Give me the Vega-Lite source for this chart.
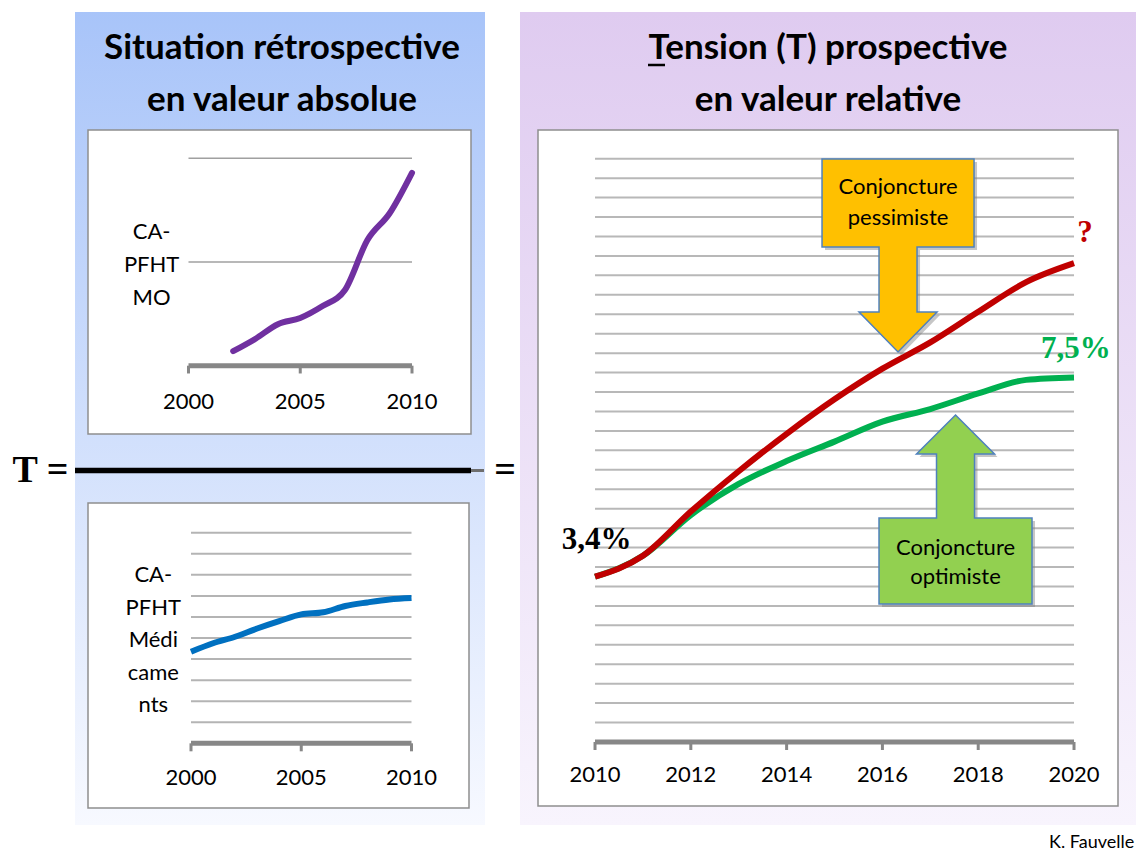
{
"$schema":"https://vega.github.io/schema/vega-lite/v6.json",
"width":1136,"height":852,"padding":0,
"autosize":{"type":"fit","contains":"padding"},
"background":"#ffffff",
"config":{"view":{"stroke":null},"text":{"font":"Lato","color":"#000000"}},
"datasets":{
"mo":[{"year":2002,"value":0.14},{"year":2003,"value":0.26},{"year":2004,"value":0.40},{"year":2005,"value":0.46},{"year":2006,"value":0.575},{"year":2007,"value":0.73},{"year":2008,"value":1.21},{"year":2009,"value":1.47},{"year":2010,"value":1.86}],
"med":[{"year":2000,"value":4.35},{"year":2001,"value":4.75},{"year":2002,"value":5.06},{"year":2003,"value":5.45},{"year":2004,"value":5.80},{"year":2005,"value":6.12},{"year":2006,"value":6.22},{"year":2007,"value":6.52},{"year":2008,"value":6.69},{"year":2009,"value":6.83},{"year":2010,"value":6.90}],
"tension":[
{"scenario":"optimiste","year":2010,"pct":3.40},{"scenario":"optimiste","year":2011,"pct":3.83},{"scenario":"optimiste","year":2012,"pct":4.67},{"scenario":"optimiste","year":2013,"pct":5.31},{"scenario":"optimiste","year":2014,"pct":5.78},{"scenario":"optimiste","year":2015,"pct":6.18},{"scenario":"optimiste","year":2016,"pct":6.59},{"scenario":"optimiste","year":2017,"pct":6.85},{"scenario":"optimiste","year":2018,"pct":7.17},{"scenario":"optimiste","year":2019,"pct":7.45},{"scenario":"optimiste","year":2020,"pct":7.50},
{"scenario":"pessimiste","year":2010,"pct":3.40},{"scenario":"pessimiste","year":2011,"pct":3.83},{"scenario":"pessimiste","year":2012,"pct":4.74},{"scenario":"pessimiste","year":2013,"pct":5.57},{"scenario":"pessimiste","year":2014,"pct":6.34},{"scenario":"pessimiste","year":2015,"pct":7.05},{"scenario":"pessimiste","year":2016,"pct":7.68},{"scenario":"pessimiste","year":2017,"pct":8.22},{"scenario":"pessimiste","year":2018,"pct":8.85},{"scenario":"pessimiste","year":2019,"pct":9.46},{"scenario":"pessimiste","year":2020,"pct":9.85}]
},
"layer":[
{"layer":[
 {"data":{"values":[{}]},"mark":{"type":"rect","fill":{"gradient":"linear","x1":0,"y1":0,"x2":0,"y2":1,"stops":[{"offset":0,"color":"#A8C4F9"},{"offset":1,"color":"#F7F9FF"}]}},
  "encoding":{"x":{"datum":75,"type":"quantitative","scale":{"domain":[0,1136],"nice":false,"zero":false},"axis":null},"x2":{"datum":485},"y":{"datum":12,"type":"quantitative","scale":{"domain":[0,852],"nice":false,"zero":false,"reverse":true},"axis":null},"y2":{"datum":825}}},
 {"data":{"values":[{}]},"mark":{"type":"rect","fill":{"gradient":"linear","x1":0,"y1":0,"x2":0,"y2":1,"stops":[{"offset":0,"color":"#DFCBF0"},{"offset":1,"color":"#F8F4FD"}]}},
  "encoding":{"x":{"datum":520,"type":"quantitative","scale":{"domain":[0,1136],"nice":false,"zero":false},"axis":null},"x2":{"datum":1136},"y":{"datum":12,"type":"quantitative","scale":{"domain":[0,852],"nice":false,"zero":false,"reverse":true},"axis":null},"y2":{"datum":825}}},
 {"data":{"values":[{"box":"MO"}]},"mark":{"type":"rect","fill":"#ffffff","stroke":"#8E8E8E","strokeWidth":1.5},
  "encoding":{"x":{"datum":88,"type":"quantitative","scale":{"domain":[0,1136],"nice":false,"zero":false},"axis":null},"x2":{"datum":471},"y":{"datum":130,"type":"quantitative","scale":{"domain":[0,852],"nice":false,"zero":false,"reverse":true},"axis":null},"y2":{"datum":434}}},
 {"data":{"values":[{"box":"Med"}]},"mark":{"type":"rect","fill":"#ffffff","stroke":"#8E8E8E","strokeWidth":1.5},
  "encoding":{"x":{"datum":88,"type":"quantitative","scale":{"domain":[0,1136],"nice":false,"zero":false},"axis":null},"x2":{"datum":469},"y":{"datum":503,"type":"quantitative","scale":{"domain":[0,852],"nice":false,"zero":false,"reverse":true},"axis":null},"y2":{"datum":808}}},
 {"data":{"values":[{"box":"T"}]},"mark":{"type":"rect","fill":"#ffffff","stroke":"#8E8E8E","strokeWidth":1.5},
  "encoding":{"x":{"datum":538,"type":"quantitative","scale":{"domain":[0,1136],"nice":false,"zero":false},"axis":null},"x2":{"datum":1118},"y":{"datum":130,"type":"quantitative","scale":{"domain":[0,852],"nice":false,"zero":false,"reverse":true},"axis":null},"y2":{"datum":806}}},
 {"data":{"values":[{"t":"Situation rétrospective\nen valeur absolue"}]},"mark":{"type":"text","fontSize":35,"fontWeight":"bold","lineBreak":"\n","lineHeight":52,"baseline":"middle","align":"center"},
  "encoding":{"x":{"datum":282,"type":"quantitative","scale":{"domain":[0,1136],"nice":false,"zero":false},"axis":null},"y":{"datum":48,"type":"quantitative","scale":{"domain":[0,852],"nice":false,"zero":false,"reverse":true},"axis":null},"text":{"field":"t"}}},
 {"data":{"values":[{"t":"Tension (T) prospective\nen valeur relative"}]},"mark":{"type":"text","fontSize":35,"fontWeight":"bold","lineBreak":"\n","lineHeight":52,"baseline":"middle","align":"center"},
  "encoding":{"x":{"datum":828,"type":"quantitative","scale":{"domain":[0,1136],"nice":false,"zero":false},"axis":null},"y":{"datum":48,"type":"quantitative","scale":{"domain":[0,852],"nice":false,"zero":false,"reverse":true},"axis":null},"text":{"field":"t"}}},
 {"data":{"values":[{}]},"mark":{"type":"rule","color":"#000000","strokeWidth":2.5},
  "encoding":{"x":{"datum":648,"type":"quantitative","scale":{"domain":[0,1136],"nice":false,"zero":false},"axis":null},"x2":{"datum":665},"y":{"datum":65,"type":"quantitative","scale":{"domain":[0,852],"nice":false,"zero":false,"reverse":true},"axis":null}}}
]},
{"layer":[
 {"data":{"values":[{"v":1},{"v":2}]},"mark":{"type":"rule","color":"#A0A0A0","strokeWidth":1.5},
  "encoding":{"x":{"datum":2000,"type":"quantitative","scale":{"domain":[1991.566,2042.394],"nice":false,"zero":false},"axis":null},"x2":{"datum":2010},"y":{"field":"v","type":"quantitative","scale":{"domain":[-4.6895,3.5265],"nice":false,"zero":false},"axis":null}}},
 {"data":{"values":[{}]},"mark":{"type":"rule","color":"#878787","strokeWidth":5},
  "encoding":{"x":{"datum":2000,"type":"quantitative","scale":{"domain":[1991.566,2042.394],"nice":false,"zero":false},"axis":null},"x2":{"datum":2010},"y":{"datum":0,"type":"quantitative","scale":{"domain":[-4.6895,3.5265],"nice":false,"zero":false},"axis":null}}},
 {"data":{"values":[{"year":2000,"label":"2000"},{"year":2005,"label":"2005"},{"year":2010,"label":"2010"}]},"layer":[
  {"mark":{"type":"rule","color":"#878787","strokeWidth":3},
   "encoding":{"x":{"field":"year","type":"quantitative","scale":{"domain":[1991.566,2042.394],"nice":false,"zero":false},"axis":null},"y":{"datum":0,"type":"quantitative","scale":{"domain":[-4.6895,3.5265],"nice":false,"zero":false},"axis":null},"y2":{"datum":-0.075}}},
  {"mark":{"type":"text","fontSize":22,"baseline":"middle","align":"center"},
   "encoding":{"x":{"field":"year","type":"quantitative","scale":{"domain":[1991.566,2042.394],"nice":false,"zero":false},"axis":null},"y":{"datum":-0.347,"type":"quantitative","scale":{"domain":[-4.6895,3.5265],"nice":false,"zero":false},"axis":null},"text":{"field":"label"}}}
 ]},
 {"data":{"values":[{"t":"CA-\nPFHT\nMO"}]},"mark":{"type":"text","fontSize":22,"lineBreak":"\n","lineHeight":33,"baseline":"middle","align":"center"},
  "encoding":{"x":{"datum":1998.35,"type":"quantitative","scale":{"domain":[1991.566,2042.394],"nice":false,"zero":false},"axis":null},"y":{"datum":1.292,"type":"quantitative","scale":{"domain":[-4.6895,3.5265],"nice":false,"zero":false},"axis":null},"text":{"field":"t"}}},
 {"data":{"name":"mo"},"mark":{"type":"line","color":"#7030A0","strokeWidth":6,"interpolate":"monotone","strokeCap":"round"},
  "encoding":{"x":{"field":"year","type":"quantitative","scale":{"domain":[1991.566,2042.394],"nice":false,"zero":false},"axis":null},"y":{"field":"value","type":"quantitative","scale":{"domain":[-4.6895,3.5265],"nice":false,"zero":false},"axis":null}}}
]},
{"layer":[
 {"data":{"values":[{"v":1},{"v":2},{"v":3},{"v":4},{"v":5},{"v":6},{"v":7},{"v":8},{"v":9},{"v":10}]},"mark":{"type":"rule","color":"#B4B4B4","strokeWidth":2},
  "encoding":{"x":{"datum":2000,"type":"quantitative","scale":{"domain":[1991.338,2042.857],"nice":false,"zero":false},"axis":null},"x2":{"datum":2010},"y":{"field":"v","type":"quantitative","scale":{"domain":[-5.161,35.294],"nice":false,"zero":false},"axis":null}}},
 {"data":{"values":[{}]},"mark":{"type":"rule","color":"#878787","strokeWidth":5},
  "encoding":{"x":{"datum":2000,"type":"quantitative","scale":{"domain":[1991.338,2042.857],"nice":false,"zero":false},"axis":null},"x2":{"datum":2010},"y":{"datum":0,"type":"quantitative","scale":{"domain":[-5.161,35.294],"nice":false,"zero":false},"axis":null}}},
 {"data":{"values":[{"year":2000,"label":"2000"},{"year":2005,"label":"2005"},{"year":2010,"label":"2010"}]},"layer":[
  {"mark":{"type":"rule","color":"#878787","strokeWidth":3},
   "encoding":{"x":{"field":"year","type":"quantitative","scale":{"domain":[1991.338,2042.857],"nice":false,"zero":false},"axis":null},"y":{"datum":0,"type":"quantitative","scale":{"domain":[-5.161,35.294],"nice":false,"zero":false},"axis":null},"y2":{"datum":-0.38}}},
  {"mark":{"type":"text","fontSize":22,"baseline":"middle","align":"center"},
   "encoding":{"x":{"field":"year","type":"quantitative","scale":{"domain":[1991.338,2042.857],"nice":false,"zero":false},"axis":null},"y":{"datum":-1.648,"type":"quantitative","scale":{"domain":[-5.161,35.294],"nice":false,"zero":false},"axis":null},"text":{"field":"label"}}}
 ]},
 {"data":{"values":[{"t":"CA-\nPFHT\nMédi\ncame\nnts"}]},"mark":{"type":"text","fontSize":22,"lineBreak":"\n","lineHeight":32.5,"baseline":"middle","align":"center"},
  "encoding":{"x":{"datum":1998.29,"type":"quantitative","scale":{"domain":[1991.338,2042.857],"nice":false,"zero":false},"axis":null},"y":{"datum":7.99,"type":"quantitative","scale":{"domain":[-5.161,35.294],"nice":false,"zero":false},"axis":null},"text":{"field":"t"}}},
 {"data":{"name":"med"},"mark":{"type":"line","color":"#0070C0","strokeWidth":6,"interpolate":"monotone"},
  "encoding":{"x":{"field":"year","type":"quantitative","scale":{"domain":[1991.338,2042.857],"nice":false,"zero":false},"axis":null},"y":{"field":"value","type":"quantitative","scale":{"domain":[-5.161,35.294],"nice":false,"zero":false},"axis":null}}}
]},
{"layer":[
 {"data":{"values":[{"v":0.4},{"v":0.8},{"v":1.2},{"v":1.6},{"v":2.0},{"v":2.4},{"v":2.8},{"v":3.2},{"v":3.6},{"v":4.0},{"v":4.4},{"v":4.8},{"v":5.2},{"v":5.6},{"v":6.0},{"v":6.4},{"v":6.8},{"v":7.2},{"v":7.6},{"v":8.0},{"v":8.4},{"v":8.8},{"v":9.2},{"v":9.6},{"v":10.0},{"v":10.4},{"v":10.8},{"v":11.2},{"v":11.6},{"v":12.0}]},"mark":{"type":"rule","color":"#B8B8B8","strokeWidth":2},
  "encoding":{"x":{"datum":2010,"type":"quantitative","scale":{"domain":[1997.578,2021.294],"nice":false,"zero":false},"axis":null},"x2":{"datum":2020},"y":{"field":"v","type":"quantitative","scale":{"domain":[-2.263,15.265],"nice":false,"zero":false},"axis":null}}},
 {"data":{"values":[{}]},"mark":{"type":"rule","color":"#878787","strokeWidth":5},
  "encoding":{"x":{"datum":2010,"type":"quantitative","scale":{"domain":[1997.578,2021.294],"nice":false,"zero":false},"axis":null},"x2":{"datum":2020},"y":{"datum":0,"type":"quantitative","scale":{"domain":[-2.263,15.265],"nice":false,"zero":false},"axis":null}}},
 {"data":{"values":[{"year":2010,"label":"2010"},{"year":2012,"label":"2012"},{"year":2014,"label":"2014"},{"year":2016,"label":"2016"},{"year":2018,"label":"2018"},{"year":2020,"label":"2020"}]},"layer":[
  {"mark":{"type":"rule","color":"#878787","strokeWidth":3},
   "encoding":{"x":{"field":"year","type":"quantitative","scale":{"domain":[1997.578,2021.294],"nice":false,"zero":false},"axis":null},"y":{"datum":0,"type":"quantitative","scale":{"domain":[-2.263,15.265],"nice":false,"zero":false},"axis":null},"y2":{"datum":-0.165}}},
  {"mark":{"type":"text","fontSize":22,"baseline":"middle","align":"center"},
   "encoding":{"x":{"field":"year","type":"quantitative","scale":{"domain":[1997.578,2021.294],"nice":false,"zero":false},"axis":null},"y":{"datum":-0.679,"type":"quantitative","scale":{"domain":[-2.263,15.265],"nice":false,"zero":false},"axis":null},"text":{"field":"label"}}}
 ]},
 {"data":{"values":[{"callout":"pessimiste"}]},"layer":[
  {"mark":{"type":"point","shape":"M-0.76,-0.965L0.76,-0.965L0.76,-0.085L0.19,-0.085L0.19,0.565L0.39,0.565L0,0.965L-0.39,0.565L-0.19,0.565L-0.19,-0.085L-0.76,-0.085Z","size":40000,"filled":true,"fill":"#808080","opacity":0.45,"strokeWidth":0,"xOffset":3,"yOffset":3},
   "encoding":{"x":{"datum":2016.326,"type":"quantitative","scale":{"domain":[1997.578,2021.294],"nice":false,"zero":false},"axis":null},"y":{"datum":10.009,"type":"quantitative","scale":{"domain":[-2.263,15.265],"nice":false,"zero":false},"axis":null}}},
  {"mark":{"type":"point","shape":"M-0.76,-0.965L0.76,-0.965L0.76,-0.085L0.19,-0.085L0.19,0.565L0.39,0.565L0,0.965L-0.39,0.565L-0.19,0.565L-0.19,-0.085L-0.76,-0.085Z","size":40000,"filled":true,"fill":"#FFC000","stroke":"#4F81BD","strokeWidth":1.5,"opacity":1},
   "encoding":{"x":{"datum":2016.326,"type":"quantitative","scale":{"domain":[1997.578,2021.294],"nice":false,"zero":false},"axis":null},"y":{"datum":10.009,"type":"quantitative","scale":{"domain":[-2.263,15.265],"nice":false,"zero":false},"axis":null}}},
  {"mark":{"type":"text","fontSize":22,"lineBreak":"\n","lineHeight":31,"baseline":"middle","align":"center"},
   "encoding":{"x":{"datum":2016.326,"type":"quantitative","scale":{"domain":[1997.578,2021.294],"nice":false,"zero":false},"axis":null},"y":{"datum":11.418,"type":"quantitative","scale":{"domain":[-2.263,15.265],"nice":false,"zero":false},"axis":null},"text":{"value":"Conjoncture\npessimiste"}}}
 ]},
 {"data":{"values":[{"callout":"optimiste"}]},"layer":[
  {"mark":{"type":"point","shape":"M0,-0.945L0.39,-0.555L0.19,-0.555L0.19,0.085L0.765,0.085L0.765,0.945L-0.765,0.945L-0.765,0.085L-0.19,0.085L-0.19,-0.555L-0.39,-0.555Z","size":40000,"filled":true,"fill":"#808080","opacity":0.45,"strokeWidth":0,"xOffset":3,"yOffset":3},
   "encoding":{"x":{"datum":2017.526,"type":"quantitative","scale":{"domain":[1997.578,2021.294],"nice":false,"zero":false},"axis":null},"y":{"datum":4.783,"type":"quantitative","scale":{"domain":[-2.263,15.265],"nice":false,"zero":false},"axis":null}}},
  {"mark":{"type":"point","shape":"M0,-0.945L0.39,-0.555L0.19,-0.555L0.19,0.085L0.765,0.085L0.765,0.945L-0.765,0.945L-0.765,0.085L-0.19,0.085L-0.19,-0.555L-0.39,-0.555Z","size":40000,"filled":true,"fill":"#92D050","stroke":"#4F81BD","strokeWidth":1.5,"opacity":1},
   "encoding":{"x":{"datum":2017.526,"type":"quantitative","scale":{"domain":[1997.578,2021.294],"nice":false,"zero":false},"axis":null},"y":{"datum":4.783,"type":"quantitative","scale":{"domain":[-2.263,15.265],"nice":false,"zero":false},"axis":null}}},
  {"mark":{"type":"text","fontSize":22,"lineBreak":"\n","lineHeight":29,"baseline":"middle","align":"center"},
   "encoding":{"x":{"datum":2017.526,"type":"quantitative","scale":{"domain":[1997.578,2021.294],"nice":false,"zero":false},"axis":null},"y":{"datum":3.985,"type":"quantitative","scale":{"domain":[-2.263,15.265],"nice":false,"zero":false},"axis":null},"text":{"value":"Conjoncture\noptimiste"}}}
 ]},
 {"data":{"name":"tension"},"transform":[{"filter":"datum.scenario === 'optimiste'"}],"mark":{"type":"line","color":"#00B050","strokeWidth":6,"interpolate":"monotone"},
  "encoding":{"x":{"field":"year","type":"quantitative","scale":{"domain":[1997.578,2021.294],"nice":false,"zero":false},"axis":null},"y":{"field":"pct","type":"quantitative","scale":{"domain":[-2.263,15.265],"nice":false,"zero":false},"axis":null}}},
 {"data":{"name":"tension"},"transform":[{"filter":"datum.scenario === 'pessimiste'"}],"mark":{"type":"line","color":"#C00000","strokeWidth":6,"interpolate":"monotone"},
  "encoding":{"x":{"field":"year","type":"quantitative","scale":{"domain":[1997.578,2021.294],"nice":false,"zero":false},"axis":null},"y":{"field":"pct","type":"quantitative","scale":{"domain":[-2.263,15.265],"nice":false,"zero":false},"axis":null}}},
 {"data":{"values":[{"label":"3,4%"}]},"mark":{"type":"text","font":"Liberation Serif","fontWeight":"bold","fontSize":31,"baseline":"alphabetic","align":"center","color":"#000000"},
  "encoding":{"x":{"datum":2010.035,"type":"quantitative","scale":{"domain":[1997.578,2021.294],"nice":false,"zero":false},"axis":null},"y":{"datum":3.964,"type":"quantitative","scale":{"domain":[-2.263,15.265],"nice":false,"zero":false},"axis":null},"text":{"field":"label"}}},
 {"data":{"values":[{"label":"7,5%"}]},"mark":{"type":"text","font":"Liberation Serif","fontWeight":"bold","fontSize":31,"baseline":"alphabetic","align":"center","color":"#00B050"},
  "encoding":{"x":{"datum":2020.04,"type":"quantitative","scale":{"domain":[1997.578,2021.294],"nice":false,"zero":false},"axis":null},"y":{"datum":7.894,"type":"quantitative","scale":{"domain":[-2.263,15.265],"nice":false,"zero":false},"axis":null},"text":{"field":"label"}}},
 {"data":{"values":[{"label":"?"}]},"mark":{"type":"text","font":"Liberation Serif","fontWeight":"bold","fontSize":31,"baseline":"alphabetic","align":"center","color":"#C00000"},
  "encoding":{"x":{"datum":2020.23,"type":"quantitative","scale":{"domain":[1997.578,2021.294],"nice":false,"zero":false},"axis":null},"y":{"datum":10.293,"type":"quantitative","scale":{"domain":[-2.263,15.265],"nice":false,"zero":false},"axis":null},"text":{"field":"label"}}}
]},
{"layer":[
 {"data":{"values":[{"t":"T ="}]},"mark":{"type":"text","font":"Liberation Serif","fontWeight":"bold","fontSize":38,"baseline":"middle","align":"center"},
  "encoding":{"x":{"datum":40.5,"type":"quantitative","scale":{"domain":[0,1136],"nice":false,"zero":false},"axis":null},"y":{"datum":471,"type":"quantitative","scale":{"domain":[0,852],"nice":false,"zero":false,"reverse":true},"axis":null},"text":{"field":"t"}}},
 {"data":{"values":[{"t":"="}]},"mark":{"type":"text","font":"Liberation Serif","fontWeight":"bold","fontSize":38,"baseline":"middle","align":"center"},
  "encoding":{"x":{"datum":505,"type":"quantitative","scale":{"domain":[0,1136],"nice":false,"zero":false},"axis":null},"y":{"datum":471,"type":"quantitative","scale":{"domain":[0,852],"nice":false,"zero":false,"reverse":true},"axis":null},"text":{"field":"t"}}},
 {"data":{"values":[{}]},"mark":{"type":"rule","color":"#000000","strokeWidth":5.5},
  "encoding":{"x":{"datum":75,"type":"quantitative","scale":{"domain":[0,1136],"nice":false,"zero":false},"axis":null},"x2":{"datum":471},"y":{"datum":470.5,"type":"quantitative","scale":{"domain":[0,852],"nice":false,"zero":false,"reverse":true},"axis":null}}},
 {"data":{"values":[{}]},"mark":{"type":"rule","color":"#6E6E6E","strokeWidth":3},
  "encoding":{"x":{"datum":471,"type":"quantitative","scale":{"domain":[0,1136],"nice":false,"zero":false},"axis":null},"x2":{"datum":484},"y":{"datum":470.5,"type":"quantitative","scale":{"domain":[0,852],"nice":false,"zero":false,"reverse":true},"axis":null}}},
 {"data":{"values":[{"t":"K. Fauvelle"}]},"mark":{"type":"text","fontSize":18,"baseline":"middle","align":"left","clip":true},
  "encoding":{"x":{"datum":1049,"type":"quantitative","scale":{"domain":[0,1136],"nice":false,"zero":false},"axis":null},"y":{"datum":843,"type":"quantitative","scale":{"domain":[0,852],"nice":false,"zero":false,"reverse":true},"axis":null},"text":{"field":"t"}}}
]}
],
"resolve":{"scale":{"x":"independent","y":"independent"}}
}
